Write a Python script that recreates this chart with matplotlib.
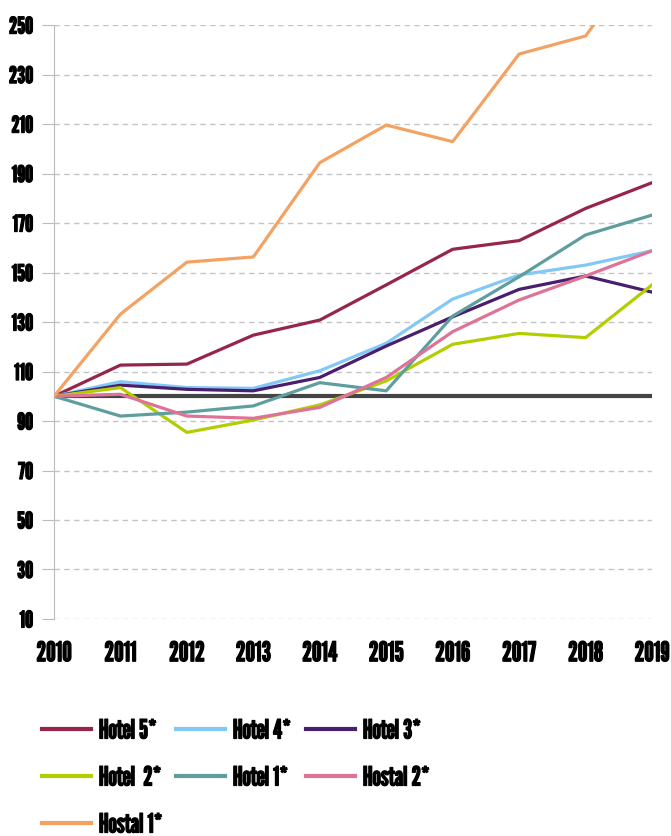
import numpy as np
import matplotlib.pyplot as plt
import matplotlib.patheffects as pe

years = np.arange(2010, 2020)

hotel5 = [100, 112.6, 113, 124.7, 130.8, 145, 159.4, 162.9, 175.9, 186.3]
hotel4 = [100, 105.9, 103.5, 103.2, 110.3, 121.4, 139.3, 149, 153, 158.8]
hotel3 = [100, 104.5, 102.8, 102.2, 107.6, 120.3, 132.1, 143.2, 148.6, 142.1]
hotel2 = [100, 103.5, 85.4, 90.4, 96.5, 106.2, 121, 125.4, 123.7, 145]
hotel1 = [100, 92, 93.6, 96.1, 105.5, 102.2, 132.4, 148.3, 165.2, 173.2]
hostal2 = [100, 100.8, 92, 91.1, 95.5, 107.6, 126.1, 138.9, 148.6, 158.8]
hostal1 = [100, 133.2, 154.2, 156.3, 194.4, 209.6, 202.9, 238.3, 245.6, 282]
base = [100] * len(years)

series = [
    ("Hotel 5*", hotel5, "#962548"),
    ("Hotel 4*", hotel4, "#82C8F7"),
    ("Hotel 3*", hotel3, "#4A1E6E"),
    ("Hotel  2*", hotel2, "#B3CE00"),
    ("Hotel 1*", hotel1, "#5F9E9F"),
    ("Hostal 2*", hostal2, "#DE7398"),
    ("Hostal 1*", hostal1, "#F4A261"),
]

plt.rcParams['font.family'] = ['League Gothic', 'DejaVu Sans']
heavy = [pe.withStroke(linewidth=0.9, foreground="black")]

fig = plt.figure(figsize=(6.71, 8.36), dpi=100)
ax = fig.add_axes([0.0805, 0.2596, 0.8912, 0.7104])

ax.plot(years, base, color="#444444", lw=3.0, zorder=2)
lines = {}
for name, vals, col in series:
    ln, = ax.plot(years, vals, color=col, lw=2.3, label=name, zorder=3)
    lines[name] = ln

ax.set_xlim(2010, 2019)
ax.set_ylim(10, 250)
ax.set_yticks(np.arange(10, 251, 20))
ax.set_xticks(years)
ax.grid(axis='y', color="#c4c4c4", ls=(0, (4, 3)), lw=1)
ax.set_axisbelow(True)
for s in ['top', 'right', 'bottom']:
    ax.spines[s].set_visible(False)
ax.spines['left'].set_color("#bbbbbb")
ax.tick_params(axis='y', length=9, color="#bbbbbb", labelsize=16.5, pad=6)
ax.tick_params(axis='x', length=0, labelsize=19.5, pad=16)
for t in ax.get_xticklabels() + ax.get_yticklabels():
    t.set_path_effects(heavy)

# legend entries placed on the reference's 3-column grid
entries = [("Hotel 5*", 0, 0), ("Hotel 4*", 1, 0), ("Hotel 3*", 2, 0),
           ("Hotel  2*", 0, 1), ("Hotel 1*", 1, 1), ("Hostal 2*", 2, 1),
           ("Hostal 1*", 0, 2)]
col_x = [42, 176, 306]
row_y = [731, 778, 825]
for name, c, r in entries:
    leg = fig.legend([lines[name]], [name], loc='center left',
                     bbox_to_anchor=(col_x[c] / 671, 1 - row_y[r] / 836),
                     frameon=False, fontsize=19, handlelength=1.85,
                     handletextpad=0.3, borderpad=0, borderaxespad=0)
    for t in leg.get_texts():
        t.set_path_effects(heavy)
    for h in leg.get_lines():
        h.set_linewidth(3.0)

fig.savefig("out.png", dpi=100)
